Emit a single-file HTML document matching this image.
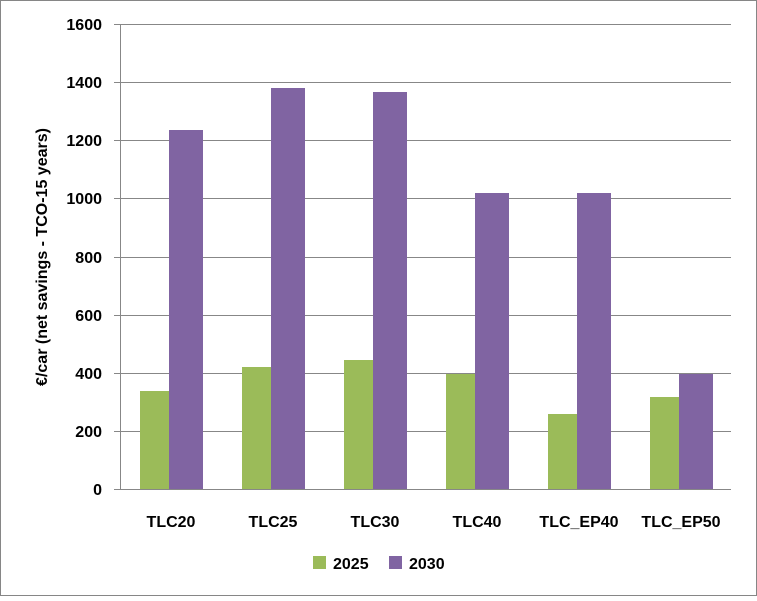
<!DOCTYPE html>
<html><head><style>body{margin:0;background:#fff}</style></head><body>
<svg width="757" height="596" xmlns="http://www.w3.org/2000/svg" font-family="Liberation Sans, sans-serif">
<rect x="0.5" y="0.5" width="756" height="595" fill="#fff" stroke="#868686"/>
<g stroke="#878787" stroke-width="1">
<line x1="120" y1="24.5" x2="731" y2="24.5"/><line x1="120" y1="82.5" x2="731" y2="82.5"/>
<line x1="120" y1="140.5" x2="731" y2="140.5"/><line x1="120" y1="198.5" x2="731" y2="198.5"/>
<line x1="120" y1="257.5" x2="731" y2="257.5"/><line x1="120" y1="315.5" x2="731" y2="315.5"/>
<line x1="120" y1="373.5" x2="731" y2="373.5"/><line x1="120" y1="431.5" x2="731" y2="431.5"/>
<line x1="120" y1="489.5" x2="731" y2="489.5"/><line x1="120.5" y1="24" x2="120.5" y2="489"/>
<line x1="114" y1="24.5" x2="120" y2="24.5"/><line x1="114" y1="82.5" x2="120" y2="82.5"/>
<line x1="114" y1="140.5" x2="120" y2="140.5"/><line x1="114" y1="198.5" x2="120" y2="198.5"/>
<line x1="114" y1="257.5" x2="120" y2="257.5"/><line x1="114" y1="315.5" x2="120" y2="315.5"/>
<line x1="114" y1="373.5" x2="120" y2="373.5"/><line x1="114" y1="431.5" x2="120" y2="431.5"/>
<line x1="114" y1="489.5" x2="120" y2="489.5"/>
</g>
<g font-size="16" font-weight="bold" text-anchor="end" fill="#000">
<text x="102" y="30">1600</text><text x="102" y="88">1400</text><text x="102" y="146">1200</text>
<text x="102" y="204">1000</text><text x="102" y="263">800</text><text x="102" y="321">600</text>
<text x="102" y="379">400</text><text x="102" y="437">200</text><text x="102" y="495">0</text>
</g>
<text transform="translate(47,257) rotate(-90)" font-size="16" font-weight="bold" text-anchor="middle">€/car (net savings - TCO-15 years)</text>
<g fill="#9BBB59">
<rect x="140" y="391" width="29" height="98"/>
<rect x="242" y="367" width="29" height="122"/>
<rect x="344" y="360" width="29" height="129"/>
<rect x="446" y="374" width="29" height="115"/>
<rect x="548" y="414" width="29" height="75"/>
<rect x="650" y="397" width="29" height="92"/>
</g>
<g fill="#8064A2">
<rect x="169" y="130" width="34" height="359"/>
<rect x="271" y="88" width="34" height="401"/>
<rect x="373" y="92" width="34" height="397"/>
<rect x="475" y="193" width="34" height="296"/>
<rect x="577" y="193" width="34" height="296"/>
<rect x="679" y="374" width="34" height="115"/>
</g>
<g font-size="16" font-weight="bold" text-anchor="middle">
<text x="171" y="527">TLC20</text><text x="273" y="527">TLC25</text><text x="375" y="527">TLC30</text>
<text x="477" y="527">TLC40</text><text x="579" y="527">TLC_EP40</text><text x="681" y="527">TLC_EP50</text>
</g>
<rect x="313" y="556" width="13" height="13" fill="#9BBB59"/>
<text x="333" y="569" font-size="16" font-weight="bold">2025</text>
<rect x="389" y="556" width="13" height="13" fill="#8064A2"/>
<text x="409" y="569" font-size="16" font-weight="bold">2030</text>
</svg>
</body></html>
